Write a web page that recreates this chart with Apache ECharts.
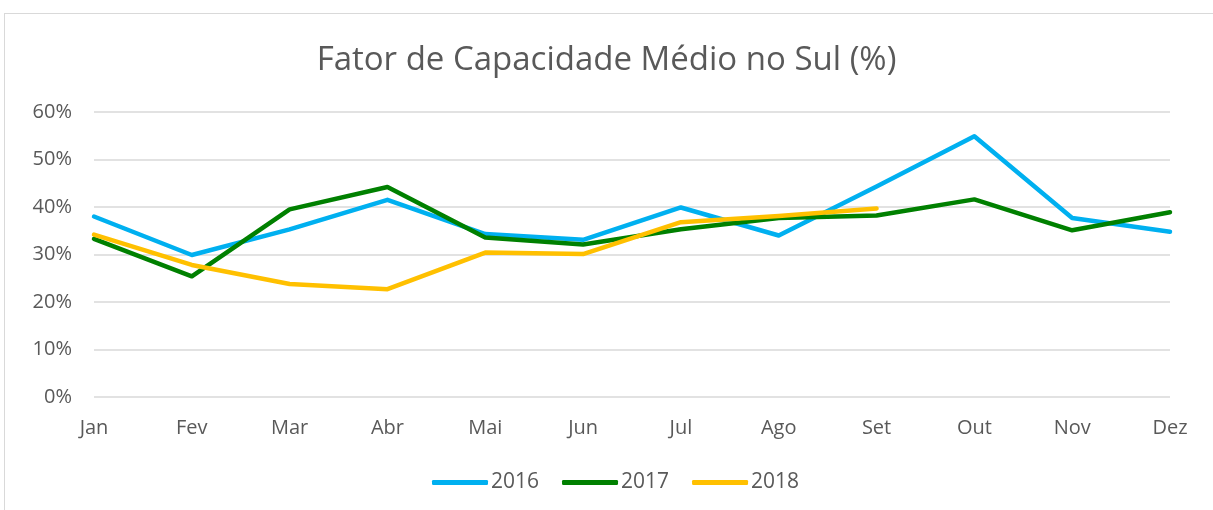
<!DOCTYPE html>
<html>
<head>
<meta charset="utf-8">
<script src="https://cdn.jsdelivr.net/npm/echarts@6/dist/echarts.min.js"></script>
<style>
    html, body { margin: 0; padding: 0; background: #fff; }
    #frame {
        position: absolute; left: 4px; top: 13px; right: 0; bottom: 0;
        border-top: 1px solid #d9d9d9; border-left: 1px solid #d9d9d9;
    }
    #chart { position: absolute; left: 0; top: 0; width: 1213px; height: 510px; }
</style>
</head>
<body>
<div id="frame"></div>
<div id="chart"></div>
<script>
const months = ["Jan", "Fev", "Mar", "Abr", "Mai", "Jun", "Jul", "Ago", "Set", "Out", "Nov", "Dez"];
const yearNames = ["2016", "2017", "2018"];
const values2016 = [38.0, 29.9, 35.3, 41.5, 34.3, 33.1, 39.9, 34.0, 44.3, 54.9, 37.7, 34.8];
const values2017 = [33.3, 25.4, 39.5, 44.2, 33.6, 32.1, 35.3, 37.7, 38.2, 41.6, 35.1, 38.9];
const values2018 = [34.2, 27.8, 23.8, 22.7, 30.4, 30.1, 36.8, 38.1, 39.7];
const yTicks = [0, 10, 20, 30, 40, 50, 60];
const colors = ["#00B0F0", "#008000", "#FFC000"];

const chart = echarts.init(document.getElementById("chart"), null, { renderer: "canvas" });
const font = "'Open Sans', 'DejaVu Sans', sans-serif";

function makeSeries(name, data, color) {
    return {
        name: name,
        type: "line",
        data: data,
        showSymbol: false,
        symbol: "none",
        lineStyle: { color: color, width: 4.5, join: "round", cap: "round" },
        itemStyle: { color: color }
    };
}

const option = {
    animation: false,
    backgroundColor: "transparent",
    textStyle: { fontFamily: font },
    title: {
        text: "Fator de Capacidade Médio no Sul (%)",
        left: "center",
        top: 39,
        textStyle: { fontFamily: font, fontSize: 33, fontWeight: "normal", color: "#595959" }
    },
    legend: {
        bottom: 12,
        left: 427,
        icon: "roundRect",
        itemWidth: 56,
        itemHeight: 5,
        itemGap: 23,
        textStyle: { fontFamily: font, fontSize: 21, color: "#595959", padding: [0, 0, 0, -2] },
        data: yearNames
    },
    grid: { left: 94, right: 43, top: 112, bottom: 113, containLabel: false },
    xAxis: {
        type: "category",
        data: months,
        boundaryGap: false,
        axisLine: { show: false },
        axisTick: { show: false },
        axisLabel: { fontFamily: font, fontSize: 20, color: "#595959", margin: 21, interval: 0 },
        splitLine: { show: false }
    },
    yAxis: {
        type: "value",
        min: yTicks[0],
        max: yTicks[yTicks.length - 1],
        interval: 10,
        axisLine: { show: false },
        axisTick: { show: false },
        axisLabel: { fontFamily: font, fontSize: 20, color: "#595959", margin: 22, formatter: "{value}%" },
        splitLine: { lineStyle: { color: "#d9d9d9", width: 1.5 } }
    },
    series: [
        makeSeries(yearNames[0], values2016, colors[0]),
        makeSeries(yearNames[1], values2017, colors[1]),
        makeSeries(yearNames[2], values2018, colors[2])
    ]
};

chart.setOption(option);
</script>
</body>
</html>
